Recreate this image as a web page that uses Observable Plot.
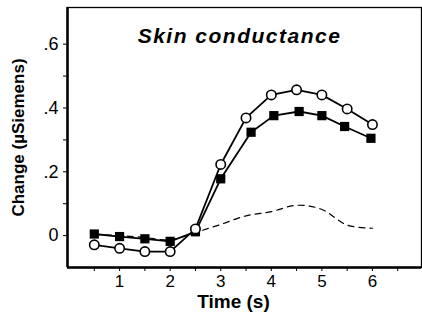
<!DOCTYPE html>
<html>
<head>
<meta charset="utf-8">
<script src="https://cdn.jsdelivr.net/npm/d3@7"></script>
<script src="https://cdn.jsdelivr.net/npm/@observablehq/plot@0.6"></script>
<style>
  html, body { margin: 0; padding: 0; background: #fff; }
  svg { font-family: "Liberation Sans", Arial, sans-serif; }
</style>
</head>
<body>
<div id="chart"></div>
<script>
// ---- data ----
const title = "Skin conductance";
const xLabel = "Time (s)";
const yLabel = "Change (\u00b5Siemens)";

const timeSec = [0.5, 1, 1.5, 2, 2.5, 3, 3.5, 4, 4.5, 5, 5.5, 6];
const squareTimeSec = [0.5, 1, 1.5, 2, 2.5, 3, 3.6, 4.05, 4.55, 5, 5.45, 5.97];
const openCircles = [-0.029, -0.040, -0.050, -0.050, 0.021, 0.223, 0.369, 0.441, 0.457, 0.441, 0.397, 0.348];
const filledSquares = [0.005, -0.003, -0.010, -0.018, 0.012, 0.178, 0.324, 0.376, 0.389, 0.376, 0.342, 0.305];
const dashedDiff = [0.004, 0.000, -0.006, -0.013, 0.010, 0.035, 0.062, 0.075, 0.095, 0.082, 0.033, 0.023];

const xDomain = [-0.03, 6.97];
const yDomain = [-0.1, 0.715];
const xMajor = [1, 2, 3, 4, 5, 6];
const xMinor = [0.5, 1.5, 2.5, 3.5, 4.5, 5.5, 6.5];
const yMajor = [0, 0.2, 0.4, 0.6];
const yMinor = [0.1, 0.3, 0.5];

const circleRows = timeSec.map((t, i) => ({t, v: openCircles[i]}));
const squareRows = squareTimeSec.map((t, i) => ({t, v: filledSquares[i]}));
const dashedRows = timeSec.map((t, i) => ({t, v: dashedDiff[i]}));

const fmtY = d => d === 0 ? "0" : String(d).replace(/^0\./, ".");

const chart = Plot.plot({
  width: 422,
  height: 318,
  marginLeft: 67,
  marginRight: 1,
  marginTop: 7,
  marginBottom: 51,
  style: {fontSize: "18px", color: "black", background: "white"},
  x: {domain: xDomain},
  y: {domain: yDomain},
  marks: [
    Plot.line(dashedRows, {x: "t", y: "v", stroke: "black", strokeWidth: 1.2, strokeDasharray: "6,5", curve: "catmull-rom"}),
    Plot.line(squareRows, {x: "t", y: "v", stroke: "black", strokeWidth: 1.8}),
    Plot.line(circleRows, {x: "t", y: "v", stroke: "black", strokeWidth: 1.8}),
    Plot.dot(squareRows, {x: "t", y: "v", symbol: "square", r: 5.2, fill: "black"}),
    Plot.dot(circleRows, {x: "t", y: "v", r: 4.7, fill: "white", stroke: "black", strokeWidth: 1.6}),
    Plot.frame({stroke: "black", strokeWidth: 1.3}),
    Plot.ruleX([xDomain[0]], {stroke: "black", strokeWidth: 2.5}),
    Plot.ruleY([yDomain[0]], {stroke: "black", strokeWidth: 2.5}),
    Plot.axisX(xMajor, {tickSize: 4, tickPadding: 3, fontSize: 17, label: null}),
    Plot.axisX(xMinor, {tickSize: 4, tickFormat: () => "", label: null}),
    Plot.axisY(yMajor, {tickSize: 4, tickPadding: 5, fontSize: 18, tickFormat: fmtY, label: null}),
    Plot.axisY(yMinor, {tickSize: 4, tickFormat: () => "", label: null}),
    Plot.text([xLabel], {frameAnchor: "bottom", dx: -11, dy: 34, fontSize: 19, fontWeight: "bold", lineAnchor: "middle"}),
    Plot.text([yLabel], {frameAnchor: "left", dx: -49, dy: 0, rotate: -90, textAnchor: "middle", fontSize: 17, fontWeight: "bold", lineAnchor: "middle"}),
    Plot.text([title], {frameAnchor: "top", dx: -5, dy: 29, fontSize: 21, fontWeight: "bold", fontStyle: "italic", lineAnchor: "middle"})
  ]
});
d3.select(chart).selectAll("text").filter(function () { return this.textContent === title; }).style("letter-spacing", "1.5px");
document.getElementById("chart").appendChild(chart);
</script>
</body>
</html>
